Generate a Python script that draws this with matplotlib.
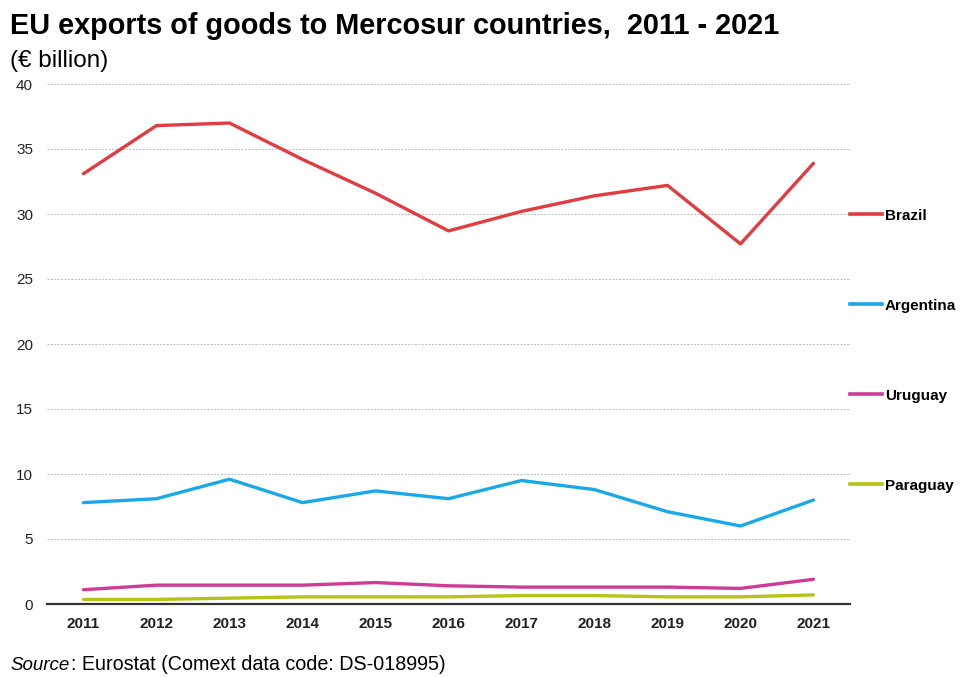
import matplotlib.pyplot as plt
from matplotlib.lines import Line2D

plt.rcParams['font.family'] = ['Liberation Sans', 'DejaVu Sans']

years = [2011, 2012, 2013, 2014, 2015, 2016, 2017, 2018, 2019, 2020, 2021]
brazil = [33.1, 36.8, 37.0, 34.2, 31.6, 28.7, 30.2, 31.4, 32.2, 27.7, 33.9]
argentina = [7.8, 8.1, 9.6, 7.8, 8.7, 8.1, 9.5, 8.8, 7.1, 6.0, 8.0]
uruguay = [1.1, 1.45, 1.45, 1.45, 1.65, 1.4, 1.3, 1.3, 1.3, 1.2, 1.9]
paraguay = [0.35, 0.35, 0.45, 0.55, 0.55, 0.55, 0.65, 0.65, 0.55, 0.55, 0.7]

names = ['Brazil', 'Argentina', 'Uruguay', 'Paraguay']
series = [brazil, argentina, uruguay, paraguay]
colors = ['#E03C41', '#1AA8E8', '#CC3D96', '#B5C217']

fig = plt.figure(figsize=(9.62, 6.77), dpi=100)
ax = fig.add_axes([47/962, 1-604/677, (850-47)/962, (604-84)/677])

for vals, c in zip(series, colors):
    ax.plot(years, vals, color=c, lw=2.4, solid_joinstyle='round', solid_capstyle='round', zorder=3)

ax.set_xlim(2010.5, 2021.5)
ax.set_ylim(0, 40)
ax.set_yticks(range(0, 41, 5))
ax.set_xticks(years)
ax.set_xticklabels([str(y) for y in years], fontweight='bold', fontsize=11, color='#222222')
ax.tick_params(axis='y', length=0, pad=10, labelsize=11, labelcolor='#222222')
ax.tick_params(axis='x', length=0, pad=9)
ax.grid(axis='y', color='#BBBBBB', ls=(0, (2, 1.5)), lw=0.7)
ax.set_axisbelow(True)
for s in ['top', 'right', 'left']:
    ax.spines[s].set_visible(False)
ax.spines['bottom'].set_color('#333333')
ax.spines['bottom'].set_linewidth(1.6)
ax.spines['bottom'].set_zorder(4)

# legend entries stacked down the right side
handles = [Line2D([], [], color=c, lw=2.6) for c in colors]
leg = fig.legend(handles, names, loc='upper left', bbox_to_anchor=(836/962, 1-195/677),
                 frameon=False, handlelength=2.1, handletextpad=0.2, labelspacing=4.97,
                 prop={'weight': 'bold', 'size': 11})

fig.text(10/962, 1-26/677, 'EU exports of goods to Mercosur countries,  2011 - 2021',
         fontsize=20.8, fontweight='bold', va='center', ha='left')
fig.text(10/962, 1-61/677, '(€ billion)', fontsize=17.5, va='center', ha='left')
fig.text(10/962, 1-665/677, 'Source', fontsize=13.5, style='italic', va='center', ha='left')
fig.text(71/962, 1-665/677, ': Eurostat (Comext data code: DS-018995)', fontsize=14.2, va='center', ha='left')

fig.savefig('out.png', dpi=100)
